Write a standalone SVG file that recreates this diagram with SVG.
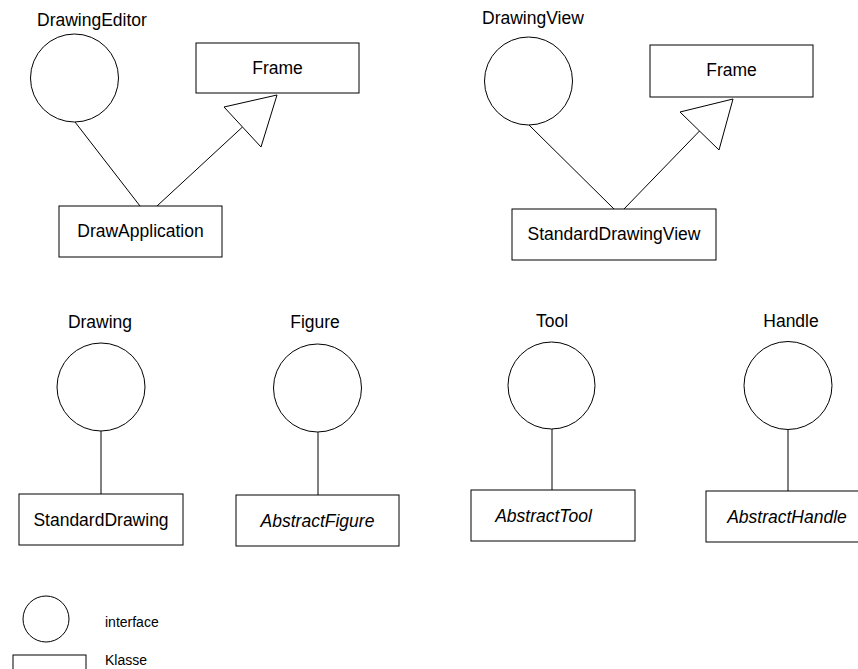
<svg xmlns="http://www.w3.org/2000/svg" width="858" height="669" viewBox="0 0 858 669">
  <style>
    .shape { fill: #fff; stroke: #000; stroke-width: 1; }
    .line { fill: none; stroke: #000; stroke-width: 1; }
    .head { fill: #fff; stroke: #000; stroke-width: 1; stroke-linejoin: miter; }
    text { font-family: "Liberation Sans", Arial, Helvetica, sans-serif; font-size: 17.5px; fill: #000; }
    .c { text-anchor: middle; }
    .it { font-style: italic; }
    .small { font-size: 14px; }
  </style>
  <rect width="858" height="669" fill="#fff"/>

  <!-- connectors -->
  <g id="connectors">
    <line class="line" x1="75" y1="122" x2="140" y2="206"/>
    <line class="line" x1="157" y1="206" x2="242.5" y2="127"/>
    <polygon class="head" points="277,95 224,107 261,147"/>
    <line class="line" x1="529" y1="125" x2="614" y2="209"/>
    <line class="line" x1="624" y1="209" x2="699.5" y2="131"/>
    <polygon class="head" points="733,99 680,112 719,150"/>
    <line class="line" x1="101" y1="431" x2="101" y2="494"/>
    <line class="line" x1="318" y1="432" x2="318" y2="495"/>
    <line class="line" x1="552" y1="429" x2="552" y2="490"/>
    <line class="line" x1="788" y1="429" x2="788" y2="491"/>
  </g>

  <!-- top left -->
  <g id="DrawingEditor">
    <circle class="shape" cx="74.5" cy="78" r="44"/>
    <text x="37" y="26">DrawingEditor</text>
  </g>
  <g id="Frame1">
    <rect class="shape" x="196" y="43" width="163" height="50"/>
    <text class="c" x="277.5" y="74">Frame</text>
  </g>
  <g id="DrawApplication">
    <rect class="shape" x="59" y="206" width="163" height="51"/>
    <text class="c" x="140.5" y="237">DrawApplication</text>
  </g>

  <!-- top right -->
  <g id="DrawingView">
    <circle class="shape" cx="528.5" cy="81" r="44"/>
    <text x="482" y="24">DrawingView</text>
  </g>
  <g id="Frame2">
    <rect class="shape" x="650" y="45" width="163" height="52"/>
    <text class="c" x="731.5" y="76">Frame</text>
  </g>
  <g id="StandardDrawingView">
    <rect class="shape" x="512" y="209" width="204" height="51"/>
    <text class="c" x="614" y="240">StandardDrawingView</text>
  </g>

  <!-- interface / implementation pairs -->
  <g id="Drawing">
    <circle class="shape" cx="101" cy="387" r="44"/>
    <text class="c" x="100" y="328">Drawing</text>
  </g>
  <g id="StandardDrawing">
    <rect class="shape" x="19" y="494" width="164" height="51"/>
    <text class="c" x="101" y="526">StandardDrawing</text>
  </g>

  <g id="Figure">
    <circle class="shape" cx="317.5" cy="388" r="44"/>
    <text class="c" x="315" y="328">Figure</text>
  </g>
  <g id="AbstractFigure">
    <rect class="shape" x="236" y="495" width="163" height="51"/>
    <text class="c it" x="317.5" y="527">AbstractFigure</text>
  </g>

  <g id="Tool">
    <circle class="shape" cx="551.5" cy="385.5" r="43.5"/>
    <text class="c" x="552" y="327">Tool</text>
  </g>
  <g id="AbstractTool">
    <rect class="shape" x="471" y="490" width="164" height="51"/>
    <text class="c it" x="543.5" y="522">AbstractTool</text>
  </g>

  <g id="Handle">
    <circle class="shape" cx="788" cy="385.5" r="44"/>
    <text class="c" x="791" y="327">Handle</text>
  </g>
  <g id="AbstractHandle">
    <rect class="shape" x="706" y="491" width="164" height="51"/>
    <text class="c it" x="787" y="523">AbstractHandle</text>
  </g>

  <!-- legend -->
  <g id="legend-interface">
    <circle class="shape" cx="46" cy="619" r="23"/>
    <text class="small" x="105" y="627">interface</text>
  </g>
  <g id="legend-class">
    <rect class="shape" x="13" y="655" width="73" height="30"/>
    <text class="small" x="105" y="665">Klasse</text>
  </g>
</svg>
